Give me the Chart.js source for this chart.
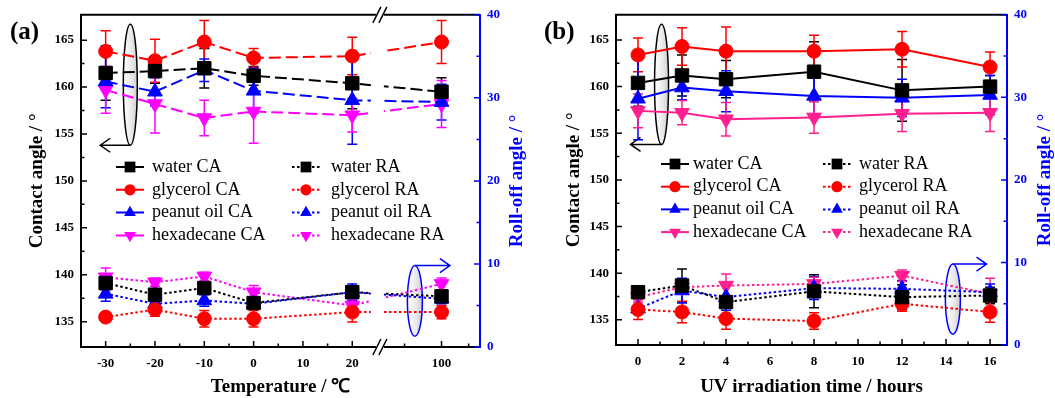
<!DOCTYPE html>
<html>
<head>
<meta charset="utf-8">
<script src="https://cdn.jsdelivr.net/npm/chart.js@4.4.0/dist/chart.umd.min.js"></script>
<style>
  html, body { margin: 0; padding: 0; background: #fff; }
  #wrap { display: flex; width: 1055px; height: 398px; overflow: hidden; }
  canvas { display: block; }
</style>
</head>
<body>
<div id="wrap">
  <canvas id="chartA" width="527" height="398"></canvas>
  <canvas id="chartB" width="528" height="398"></canvas>
</div>
<script>
// ---- (a) temperature, °C ----
const tempLabels = [-30, -20, -10, 0, 20, 100];
const waterCA_T = [161.5, 161.7, 162.0, 161.2, 160.4, 159.5];
const waterCAerr_T = [2.9, 1.3, 2.1, 1.0, 2.7, 1.5];
const glyCA_T = [163.8, 162.8, 164.8, 163.1, 163.3, 164.8];
const glyCAerr_T = [2.2, 2.3, 2.3, 1.0, 2.0, 2.3];
const peaCA_T = [160.6, 159.5, 161.8, 159.6, 158.6, 158.4];
const peaCAerr_T = [2.8, 1.5, 1.2, 2.4, 4.7, 1.9];
const hexCA_T = [159.7, 158.2, 156.7, 157.4, 157.0, 158.2];
const hexCAerr_T = [2.5, 3.1, 1.9, 3.4, 1.8, 2.5];
const waterRA_T = [7.7, 6.3, 7.1, 5.3, 6.6, 6.1];
const waterRAerr_T = [0.8, 0.7, 0.7, 0.5, 0.6, 0.5];
const glyRA_T = [3.6, 4.5, 3.4, 3.4, 4.2, 4.2];
const glyRAerr_T = [0.3, 0.8, 1.0, 1.0, 1.2, 0.8];
const peaRA_T = [6.4, 5.2, 5.6, 5.2, 6.6, 5.8];
const peaRAerr_T = [0.9, 0.5, 0.7, 0.5, 1.0, 0.6];
const hexRA_T = [8.4, 7.8, 8.5, 6.6, 5.0, 7.6];
const hexRAerr_T = [1.1, 0.5, 0.5, 0.8, 0.8, 0.7];

// ---- (b) UV irradiation, hours ----
const uvLabels = [0, 2, 4, 8, 12, 16];
const waterCA_U = [160.4, 161.2, 160.8, 161.6, 159.6, 160.0];
const waterCAerr_U = [2.5, 2.2, 2.0, 3.2, 3.3, 1.2];
const glyCA_U = [163.4, 164.3, 163.8, 163.8, 164.0, 162.1];
const glyCAerr_U = [1.8, 2.0, 2.6, 1.7, 1.9, 1.6];
const peaCA_U = [158.7, 159.9, 159.5, 159.0, 158.8, 159.1];
const peaCAerr_U = [4.4, 1.3, 2.2, 2.0, 2.0, 2.1];
const hexCA_U = [157.4, 157.2, 156.5, 156.7, 157.1, 157.2];
const hexCAerr_U = [1.8, 1.3, 1.8, 1.7, 1.9, 2.0];
const waterRA_U = [6.4, 7.2, 5.2, 6.5, 5.8, 6.0];
const waterRAerr_U = [0.7, 2.0, 2.0, 2.0, 1.5, 1.0];
const glyRA_U = [4.3, 4.0, 3.2, 2.9, 5.0, 4.0];
const glyRAerr_U = [1.2, 1.3, 1.3, 1.0, 0.9, 1.25];
const peaRA_U = [4.4, 6.6, 5.8, 6.9, 6.8, 6.4];
const peaRAerr_U = [0.5, 1.5, 1.6, 1.4, 1.0, 1.0];
const hexRA_U = [5.8, 7.0, 7.2, 7.4, 8.4, 6.2];
const hexRAerr_U = [0.6, 0.6, 1.4, 0.8, 0.7, 1.9];

// tick values
const tempTicks = [-30, -20, -10, 0, 10, 20, 100];
const tempMinor = [-25, -15, -5, 5, 15, 92.5, 105.5];
const uvTicks = [0, 2, 4, 6, 8, 10, 12, 14, 16];
const uvMinor = [1, 3, 5, 7, 9, 11, 13, 15];
const caTicks = [135, 140, 145, 150, 155, 160, 165];
const caMinor = [137.5, 142.5, 147.5, 152.5, 157.5, 162.5];
const raTicks = [0, 10, 20, 30, 40];
const raMinor = [5, 15, 25, 35];

// the temperature axis is cut between 20 and 100
const X_BREAK = 25.6;
const X_SHIFT = 61.9;
function cutAxis(t) { return t > X_BREAK ? t - X_SHIFT : t; }
function uncutAxis(v) { return v > X_BREAK ? Math.round(v + X_SHIFT) : v; }

const SERIF = '"Liberation Serif", "Times New Roman", serif';
const BLUE = '#0000ff';

function marker(ctx, style, x, y, r, rot) {
  ctx.beginPath();
  if (style === 'rect') {
    const s = r * Math.SQRT1_2;
    ctx.rect(x - s, y - s, 2 * s, 2 * s);
  } else if (style === 'circle') {
    ctx.arc(x, y, r, 0, Math.PI * 2);
  } else {
    let rad = (rot || 0) * Math.PI / 180;
    ctx.moveTo(x + Math.sin(rad) * r, y - Math.cos(rad) * r);
    rad += Math.PI * 2 / 3;
    ctx.lineTo(x + Math.sin(rad) * r, y - Math.cos(rad) * r);
    rad += Math.PI * 2 / 3;
    ctx.lineTo(x + Math.sin(rad) * r, y - Math.cos(rad) * r);
    ctx.closePath();
  }
  ctx.fill();
}

function oval(ctx, cx, top, bottom, rx, stroke) {
  const cy = (top + bottom) / 2, ry = (bottom - top) / 2;
  const g = ctx.createLinearGradient(cx - rx, 0, cx + rx, 0);
  g.addColorStop(0, '#ffffff');
  g.addColorStop(0.6, '#e8e8e8');
  g.addColorStop(1, '#cccccc');
  ctx.beginPath();
  ctx.ellipse(cx, cy, rx, ry, 0, 0, Math.PI * 2);
  ctx.fillStyle = g;
  ctx.fill();
  ctx.lineWidth = 1.5;
  ctx.strokeStyle = stroke;
  ctx.stroke();
}

function arrow(ctx, x0, y, x1, color) {
  const d = Math.sign(x1 - x0);
  ctx.beginPath();
  ctx.moveTo(x0, y); ctx.lineTo(x1, y);
  ctx.moveTo(x1 - d * 10, y - 7); ctx.lineTo(x1, y); ctx.lineTo(x1 - d * 10, y + 7);
  ctx.lineWidth = 1.5;
  ctx.strokeStyle = color;
  ctx.stroke();
}

function makeSet(label, xs, ys, errs, color, style, axis, dash, rot) {
  const r = style === 'rect' ? 9.5 : style === 'circle' ? 7 : 8.5;
  return {
    label: label,
    data: xs.map((x, i) => ({ x: x, y: ys[i] })),
    errors: errs,
    yAxisID: axis,
    borderColor: color,
    backgroundColor: color,
    borderWidth: 2,
    borderDash: dash,
    pointStyle: style,
    pointRotation: rot || 0,
    pointRadius: r,
    pointBorderWidth: 1,
    pointBackgroundColor: color,
    pointBorderColor: color,
    fill: false,
    tension: 0
  };
}

function makePanel(canvasId, p) {
  const names = ['water', 'glycerol', 'peanut oil', 'hexadecane'];
  const datasets = [];
  p.series.forEach((s, k) => {
    datasets.push(makeSet(names[k] + ' CA', p.xs, s.ca, s.caErr, s.color, s.style, 'y', p.caDash, s.rot));
    datasets.push(makeSet(names[k] + ' RA', p.xs, s.ra, s.raErr, s.color, s.style, 'y1', [2.5, 2.5], s.rot));
  });

  const tickFont = { family: SERIF, size: 13, weight: 'bold' };
  const titleFont = { family: SERIF, size: 19, weight: 'bold', lineHeight: 1 };

  const underlay = {
    id: 'underlay',
    beforeDatasetsDraw(chart) {
      const ctx = chart.ctx, x = chart.scales.x, y = chart.scales.y, y1 = chart.scales.y1;
      ctx.save();
      // ellipse pointing to the left axis
      const L = p.leftOval;
      const lx = x.getPixelForValue(L.x), lt = y.getPixelForValue(L.top), lb = y.getPixelForValue(L.bottom);
      oval(ctx, lx, lt, lb, 7, '#000');
      arrow(ctx, lx, lb, x.getPixelForValue(L.arrowTo), '#000');
      // ellipse pointing to the right axis
      const R = p.rightOval;
      const rx = x.getPixelForValue(R.x), rt = y1.getPixelForValue(R.top), rb = y1.getPixelForValue(R.bottom);
      oval(ctx, rx, rt, rb, 7.5, BLUE);
      arrow(ctx, rx, rt, x.getPixelForValue(R.arrowTo), BLUE);

      // error bars
      chart.data.datasets.forEach((ds, i) => {
        const meta = chart.getDatasetMeta(i);
        const sc = chart.scales[ds.yAxisID];
        ctx.strokeStyle = ds.borderColor;
        ctx.lineWidth = 1.5;
        ctx.setLineDash([]);
        ctx.beginPath();
        meta.data.forEach((pt, j) => {
          const v = ds.data[j].y, e = ds.errors[j];
          const yt = sc.getPixelForValue(v + e), yb = sc.getPixelForValue(v - e);
          ctx.moveTo(pt.x, yt); ctx.lineTo(pt.x, yb);
          ctx.moveTo(pt.x - 5, yt); ctx.lineTo(pt.x + 5, yt);
          ctx.moveTo(pt.x - 5, yb); ctx.lineTo(pt.x + 5, yb);
        });
        ctx.stroke();
      });
      ctx.restore();
    },
    afterDatasetsDraw(chart) {
      // the curves are interrupted where the axis is cut
      if (p.breakAt === undefined) return;
      const a = chart.chartArea, bx = chart.scales.x.getPixelForValue(p.breakAt);
      chart.ctx.save();
      chart.ctx.fillStyle = '#fff';
      chart.ctx.fillRect(bx - 9, a.top + 2, 13, a.bottom - a.top - 4);
      chart.ctx.restore();
    }
  };

  const overlay = {
    id: 'overlay',
    afterDraw(chart) {
      const ctx = chart.ctx, a = chart.chartArea;
      const x = chart.scales.x, y = chart.scales.y, y1 = chart.scales.y1;
      ctx.save();
      // top frame line
      ctx.strokeStyle = '#000';
      ctx.lineWidth = 2;
      ctx.beginPath(); ctx.moveTo(a.left - 1, a.top); ctx.lineTo(a.right, a.top); ctx.stroke();

      // inward tick marks
      ctx.lineWidth = 1.5;
      function ticks(vals, len, color, fn) {
        ctx.strokeStyle = color;
        ctx.beginPath();
        vals.forEach(fn.bind(null, len));
        ctx.stroke();
      }
      const xt = v => x.getPixelForValue(p.xMap(v));
      ticks(p.xTicks, 6, '#000', (len, v) => { ctx.moveTo(xt(v), a.bottom); ctx.lineTo(xt(v), a.bottom - len); });
      ticks(p.xMinor, 3.5, '#000', (len, v) => { ctx.moveTo(xt(v), a.bottom); ctx.lineTo(xt(v), a.bottom - len); });
      ticks(caTicks, 6, '#000', (len, v) => { const py = y.getPixelForValue(v); ctx.moveTo(a.left, py); ctx.lineTo(a.left + len, py); });
      ticks(caMinor, 3.5, '#000', (len, v) => { const py = y.getPixelForValue(v); ctx.moveTo(a.left, py); ctx.lineTo(a.left + len, py); });
      ticks(raTicks, 6, BLUE, (len, v) => { const py = y1.getPixelForValue(v); ctx.moveTo(a.right, py); ctx.lineTo(a.right - len, py); });
      ticks(raMinor, 3.5, BLUE, (len, v) => { const py = y1.getPixelForValue(v); ctx.moveTo(a.right, py); ctx.lineTo(a.right - len, py); });

      // axis break marks
      if (p.breakAt !== undefined) {
        const bx = x.getPixelForValue(p.breakAt);
        [a.top, a.bottom].forEach(by => {
          ctx.fillStyle = '#fff';
          ctx.fillRect(bx - 4, by - 2, 8, 4);
          ctx.strokeStyle = '#000';
          ctx.lineWidth = 1.5;
          ctx.beginPath();
          [-3, 3].forEach(o => { ctx.moveTo(bx + o - 4, by + 8); ctx.lineTo(bx + o + 4, by - 8); });
          ctx.stroke();
        });
      }

      // legend
      const lg = p.legend;
      ctx.font = '18px ' + SERIF;
      ctx.textBaseline = 'middle';
      chart.data.datasets.forEach((ds, i) => {
        const row = i >> 1, col = i & 1;
        const sx = a.left + (col ? lg.sym2 : lg.sym1);
        const tx = a.left + (col ? lg.txt2 : lg.txt1);
        const ly = lg.y0 + row * lg.dy;
        ctx.strokeStyle = ds.borderColor;
        ctx.lineWidth = 2;
        ctx.setLineDash(ds.borderDash);
        ctx.beginPath(); ctx.moveTo(sx - 14, ly); ctx.lineTo(sx + 14, ly); ctx.stroke();
        ctx.setLineDash([]);
        ctx.fillStyle = ds.borderColor;
        marker(ctx, ds.pointStyle, sx, ly, ds.pointRadius * 0.8, ds.pointRotation);
        ctx.fillStyle = '#000';
        ctx.fillText(ds.label, tx, ly);
      });

      // right axis title, reading upwards
      ctx.save();
      ctx.translate(p.rightTitleX, (a.top + a.bottom) / 2);
      ctx.rotate(-Math.PI / 2);
      ctx.fillStyle = BLUE;
      ctx.font = 'bold 19px ' + SERIF;
      ctx.textAlign = 'center';
      ctx.textBaseline = 'middle';
      ctx.fillText('Roll-off angle / °', 0, 0);
      ctx.restore();

      // panel label
      ctx.fillStyle = '#000';
      ctx.font = 'bold 25px ' + SERIF;
      ctx.textAlign = 'left';
      ctx.textBaseline = 'middle';
      ctx.fillText(p.label, p.labelX, 33);
      ctx.restore();
    }
  };

  return new Chart(document.getElementById(canvasId), {
    type: 'line',
    data: { datasets: datasets },
    options: {
      responsive: false,
      animation: false,
      layout: { padding: { top: 10, left: 0, right: 0, bottom: 0 } },
      plugins: { legend: { display: false }, tooltip: { enabled: false } },
      scales: {
        x: {
          type: 'linear',
          min: p.xMin, max: p.xMax,
          grid: { display: false, drawTicks: false },
          border: { display: true, color: '#000', width: 2 },
          afterBuildTicks: sc => { sc.ticks = p.xTicks.map(v => ({ value: p.xMap(v) })); },
          afterFit: sc => { sc.height = p.bottomH; },
          ticks: { padding: 9, color: '#000', font: tickFont, autoSkip: false, maxRotation: 0,
                   callback: v => String(p.xUnmap(v)) },
          title: { display: true, text: p.xTitle, color: '#000', font: titleFont, padding: { top: 0, bottom: 1 } }
        },
        y: {
          position: 'left',
          min: 132.3, max: 167.7,
          grid: { display: false, drawTicks: false },
          border: { display: true, color: '#000', width: 2 },
          afterBuildTicks: sc => { sc.ticks = caTicks.map(v => ({ value: v })); },
          afterFit: sc => { sc.width = p.leftW; },
          ticks: { padding: 7, color: '#000', font: tickFont, callback: v => String(v) },
          title: { display: true, text: 'Contact angle / °', color: '#000', font: titleFont,
                   padding: { top: p.leftTitlePad, bottom: 0 } }
        },
        y1: {
          position: 'right',
          min: 0, max: 40,
          grid: { display: false, drawTicks: false },
          border: { display: true, color: BLUE, width: 2 },
          afterBuildTicks: sc => { sc.ticks = raTicks.map(v => ({ value: v })); },
          afterFit: sc => { sc.width = p.rightW; },
          ticks: { padding: 7, color: BLUE, font: tickFont, callback: v => String(v) },
          title: { display: false }
        }
      }
    },
    plugins: [underlay, overlay]
  });
}

makePanel('chartA', {
  label: '(a)', labelX: 10,
  xs: tempLabels.map(cutAxis),
  xMap: cutAxis, xUnmap: uncutAxis,
  xTicks: tempTicks, xMinor: tempMinor,
  xMin: -35, xMax: 45.9,
  xTitle: 'Temperature / \u2103',
  caDash: [12, 5],
  breakAt: X_BREAK,
  leftW: 81, rightW: 47, bottomH: 51, leftTitlePad: 27.5, rightTitleX: 517,
  leftOval: { x: -25, top: 166.7, bottom: 153.8, arrowTo: -31.1 },
  rightOval: { x: 32.7, top: 9.8, bottom: 1.3, arrowTo: 39.8 },
  legend: { sym1: 49, txt1: 71, sym2: 225, txt2: 250, y0: 167, dy: 22.8 },
  series: [
    { ca: waterCA_T, caErr: waterCAerr_T, ra: waterRA_T, raErr: waterRAerr_T, color: '#000000', style: 'rect' },
    { ca: glyCA_T, caErr: glyCAerr_T, ra: glyRA_T, raErr: glyRAerr_T, color: '#ff0000', style: 'circle' },
    { ca: peaCA_T, caErr: peaCAerr_T, ra: peaRA_T, raErr: peaRAerr_T, color: '#0000ff', style: 'triangle' },
    { ca: hexCA_T, caErr: hexCAerr_T, ra: hexRA_T, raErr: hexRAerr_T, color: '#ff00ff', style: 'triangle', rot: 180 }
  ]
});

makePanel('chartB', {
  label: '(b)', labelX: 17,
  xs: uvLabels,
  xMap: v => v, xUnmap: v => v,
  xTicks: uvTicks, xMinor: uvMinor,
  xMin: -1, xMax: 16.77,
  xTitle: 'UV irradiation time / hours',
  caDash: [],
  leftW: 89, rightW: 48, bottomH: 53, leftTitlePad: 37.5, rightTitleX: 518.5,
  leftOval: { x: 1.07, top: 166.7, bottom: 153.8, arrowTo: -0.34 },
  rightOval: { x: 14.31, top: 9.8, bottom: 1.3, arrowTo: 15.84 },
  legend: { sym1: 59, txt1: 77, sym2: 221, txt2: 243, y0: 164, dy: 22.7 },
  series: [
    { ca: waterCA_U, caErr: waterCAerr_U, ra: waterRA_U, raErr: waterRAerr_U, color: '#000000', style: 'rect' },
    { ca: glyCA_U, caErr: glyCAerr_U, ra: glyRA_U, raErr: glyRAerr_U, color: '#ff0000', style: 'circle' },
    { ca: peaCA_U, caErr: peaCAerr_U, ra: peaRA_U, raErr: peaRAerr_U, color: '#0000ff', style: 'triangle' },
    { ca: hexCA_U, caErr: hexCAerr_U, ra: hexRA_U, raErr: hexRAerr_U, color: '#ff1f8f', style: 'triangle', rot: 180 }
  ]
});
</script>
</body>
</html>
